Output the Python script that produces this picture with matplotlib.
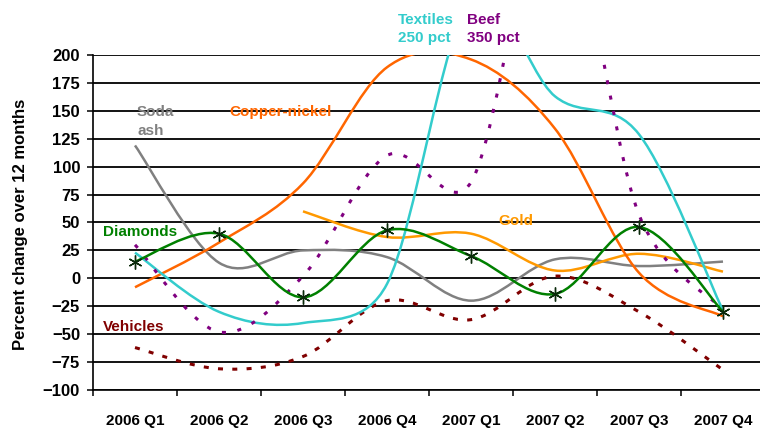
import numpy as np
import matplotlib.pyplot as plt
from matplotlib.path import Path
from matplotlib.patches import PathPatch

plt.rcParams['font.family'] = ['Liberation Sans', 'DejaVu Sans']
plt.rcParams['font.weight'] = 'bold'
plt.rcParams['lines.scale_dashes'] = False

quarters = ['2006 Q1', '2006 Q2', '2006 Q3', '2006 Q4',
            '2007 Q1', '2007 Q2', '2007 Q3', '2007 Q4']

# percent change over 12 months (quarterly)
diamonds = [15, 40, -17, 43, 20, -14, 46, -30]
copper_nickel = [-8, 32, 85, 189, 196, 134, 5, -34]
soda_ash = [119, 14, 25, 19, -20, 17, 11, 15]
gold = [None, None, 60, 37, 40, 7, 22, 6]
textiles = [23, -30, -40, -5, 250, 163, 129, -29]
beef = [30, -48, 2, 110, 86, 350, 57, -28]
vehicles = [-62, -81, -70, -20, -37, 2, -30, -82]


def smooth_path(ax, xs, ys):
    # Excel-style smoothed line: bezier segments, control arms 1/6 of the
    # neighbour chord, clamped to half the segment length (in screen space)
    data = np.array([(x, y) for x, y in zip(xs, ys) if y is not None], float)
    pts = ax.transData.transform(data)
    n = len(pts)
    verts = [pts[0]]
    codes = [Path.MOVETO]
    for i in range(n - 1):
        p0 = pts[max(i - 1, 0)]
        p1 = pts[i]
        p2 = pts[i + 1]
        p3 = pts[min(i + 2, n - 1)]
        d12 = np.hypot(*(p2 - p1))
        d02 = np.hypot(*(p2 - p0))
        d13 = np.hypot(*(p3 - p1))
        f0 = 1 / 6 if d02 / 6 < d12 / 2 else d12 / d02 / 2
        f1 = 1 / 6 if d13 / 6 < d12 / 2 else d12 / d13 / 2
        c1 = p1 + (p2 - p0) * f0
        c2 = p2 - (p3 - p1) * f1
        verts += [c1, c2, p2]
        codes += [Path.CURVE4] * 3
    verts = ax.transData.inverted().transform(np.array(verts))
    return Path(verts, codes)


fig = plt.figure(figsize=(7.6, 4.3), dpi=100)
ax = fig.add_axes([93 / 760, 40 / 430, 672 / 760, 335 / 430])
ax.set_xlim(-0.5, 7.5)
ax.set_ylim(-100, 200)

x = np.arange(len(quarters))

series = [
    (vehicles, '#800000', 2.2, (0, (3.6, 6.7))),
    (soda_ash, '#808080', 1.8, '-'),
    (gold, '#FF9900', 1.8, '-'),
    (copper_nickel, '#FF6600', 1.8, '-'),
    (textiles, '#33CCCC', 1.8, '-'),
    (beef, '#800080', 2.2, (0, (2.9, 8.4))),
    (diamonds, '#008000', 1.8, '-'),
]
for values, color, lw, ls in series:
    patch = PathPatch(smooth_path(ax, x, values), facecolor='none', edgecolor=color,
                      linewidth=lw, linestyle=ls, capstyle='butt', zorder=3)
    ax.add_patch(patch)

ax.plot(x, diamonds, linestyle='none', marker=(6, 2, 0), markersize=10,
        markeredgecolor='#0a2a0a', markeredgewidth=1.0, zorder=4)

ax.set_yticks(np.arange(-100, 201, 25))
ax.yaxis.grid(True, color='black', linewidth=1.3)
ax.set_axisbelow(True)
ax.tick_params(axis='y', direction='out', length=4.3, width=1.1, pad=5,
               labelsize=12)

ax.set_xticks(np.arange(-0.5, 7.6, 1))
ax.set_xticklabels([])
ax.set_xticks(x, minor=True)
ax.set_xticklabels(quarters, minor=True, fontsize=11)
ax.tick_params(axis='x', which='major', direction='out', length=4.3, width=1.1)
ax.tick_params(axis='x', which='minor', length=0, pad=17)

for side in ['top', 'right']:
    ax.spines[side].set_visible(False)
for side in ['left', 'bottom']:
    ax.spines[side].set_linewidth(1.2)

fig.text(21 / 760, 1 - 224 / 430, 'Percent change over 12 months', rotation=90,
         ha='center', va='center', fontsize=12)


def px(xp, yp):
    return (xp - 93) / 84 - 0.5, (279.5 - yp) / 1.117


labels = [
    ('Soda', 137, 117, '#808080'),
    ('ash', 137, 136.5, '#808080'),
    ('Copper-nickel', 229, 117, '#FF6600'),
    ('Textiles', 398, 25, '#33CCCC'),
    ('250 pct', 398, 43, '#33CCCC'),
    ('Beef', 467, 25, '#800080'),
    ('350 pct', 467, 43, '#800080'),
    ('Gold', 498, 226, '#FF9900'),
    ('Diamonds', 103, 237, '#008000'),
    ('Vehicles', 103, 332, '#800000'),
]
for text, xp, yp, color in labels:
    tx, ty = px(xp, yp)
    ax.text(tx, ty, text, color=color, fontsize=11, ha='left', va='baseline',
            clip_on=False, zorder=5)

fig.savefig('out.png', dpi=100)
